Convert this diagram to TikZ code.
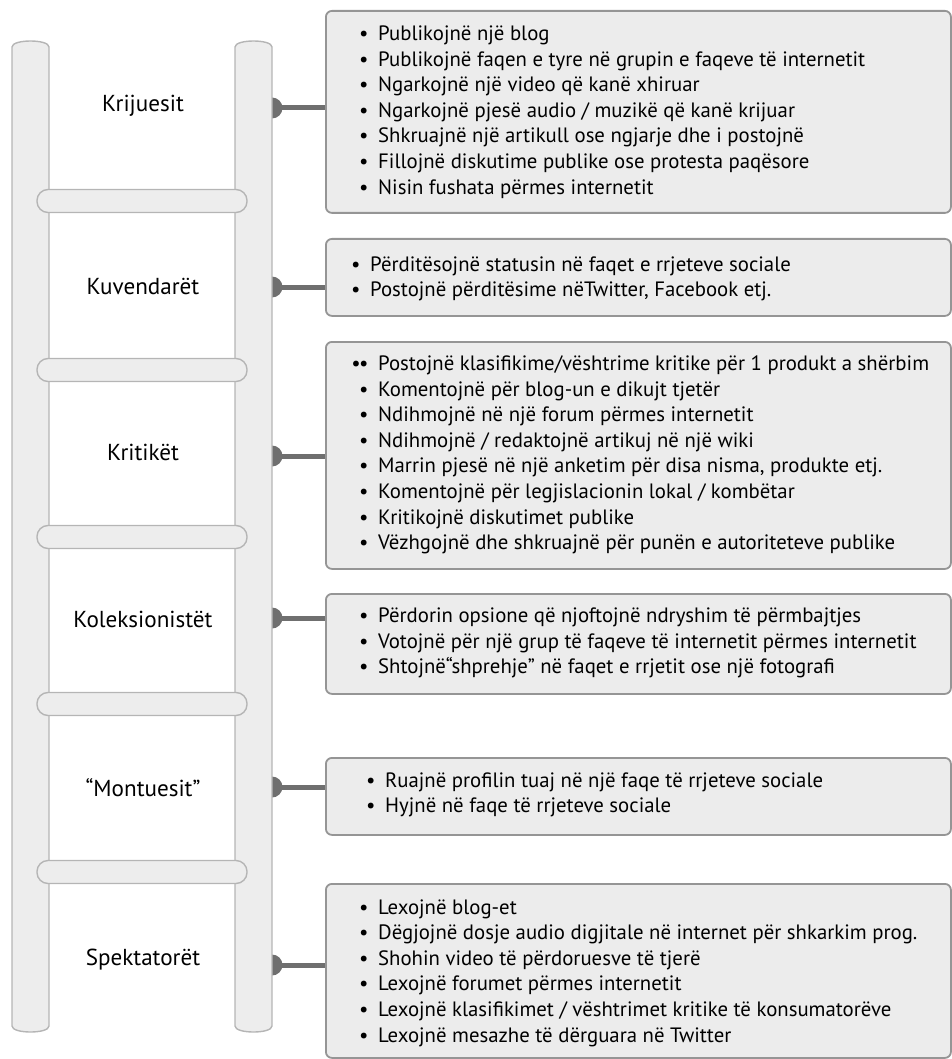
\documentclass[tikz,border=0pt]{standalone}
\usepackage{fontspec}
\setmainfont{PT Sans}
\definecolor{railfill}{HTML}{EDEDED}
\definecolor{railline}{HTML}{B5B5B5}
\definecolor{boxfill}{HTML}{ECECEC}
\definecolor{boxline}{HTML}{959595}
\definecolor{conn}{HTML}{6F6F6F}
\newlength\reflen
\newlength\lbllen
\newcommand{\bl}[1]{\makebox[19pt][l]{•}#1}
\newcommand{\bbl}[1]{\makebox[19pt][l]{\makebox[0pt][r]{•\hspace{-1.5pt}}•}#1}
\begin{document}
\settowidth\reflen{\fontsize{10}{12}\selectfont Publikojnë faqen e tyre në grupin e faqeve të internetit}%
\settowidth\lbllen{\fontsize{10}{12}\selectfont Koleksionistët}%
\edef\bsize{\fpeval{round(4870/(\the\reflen),2)}}%
\edef\lsize{\fpeval{round(1390/(\the\lbllen),2)}}%
\begin{tikzpicture}[x=1pt,y=-1pt]
\tikzset{
  box/.style={draw=boxline,fill=boxfill,line width=1.8pt,rounded corners=6pt,anchor=north west,inner sep=0pt},
  txt/.style={anchor=west,inner sep=0pt,align=left,font=\fontsize{\bsize}{25.6}\selectfont},
  lbl/.style={inner sep=0pt,font=\fontsize{\lsize}{26}\selectfont},
  rail/.style={draw=railline,fill=railfill,line width=1.4pt},
  rung/.style={draw=railline,fill=railfill,line width=1.4pt,rounded corners=11pt},
  link/.style={draw=conn,line width=5pt},
  knob/.style={fill=conn}}
\useasboundingbox (0,0) rectangle (952,1059);
% boxes
\node[box,minimum width=625,minimum height=202] (b1) at (325,10) {};
\node[box,minimum width=625,minimum height=77] (b2) at (325,238) {};
\node[box,minimum width=625,minimum height=227] (b3) at (325,341) {};
\node[box,minimum width=625,minimum height=100] (b4) at (325,593) {};
\node[box,minimum width=625,minimum height=77] (b5) at (325,757) {};
\node[box,minimum width=625,minimum height=174] (b6) at (325,883) {};
% texts
\node[txt] (t1) at (359,112) {\bl{Publikojnë një blog}\\
\bl{Publikojnë faqen e tyre në grupin e faqeve të internetit}\\
\bl{Ngarkojnë një video që kanë xhiruar}\\
\bl{Ngarkojnë pjesë audio / muzikë që kanë krijuar}\\
\bl{Shkruajnë një artikull ose ngjarje dhe i postojnë}\\
\bl{Fillojnë diskutime publike ose protesta paqësore}\\
\bl{Nisin fushata përmes internetit}};
\node[txt] (t2) at (351,279) {\bl{Përditësojnë statusin në faqet e rrjeteve sociale}\\
\bl{Postojnë përditësime nëTwitter, Facebook etj.}};
\node[txt] (t3) at (359,455) {\bbl{Postojnë klasifikime/vështrime kritike për 1 produkt a shërbim}\\
\bl{Komentojnë për blog-un e dikujt tjetër}\\
\bl{Ndihmojnë në një forum përmes internetit}\\
\bl{Ndihmojnë / redaktojnë artikuj në një wiki}\\
\bl{Marrin pjesë në një anketim për disa nisma, produkte etj.}\\
\bl{Komentojnë për legjislacionin lokal / kombëtar}\\
\bl{Kritikojnë diskutimet publike}\\
\bl{Vëzhgojnë dhe shkruajnë për punën e autoriteteve publike}};
\node[txt] (t4) at (359,643) {\bl{Përdorin opsione që njoftojnë ndryshim të përmbajtjes}\\
\bl{Votojnë për një grup të faqeve të internetit përmes internetit}\\
\bl{Shtojnë“shprehje” në faqet e rrjetit ose një fotografi}};
\node[txt] (t5) at (366,795) {\bl{Ruajnë profilin tuaj në një faqe të rrjeteve sociale}\\
\bl{Hyjnë në faqe të rrjeteve sociale}};
\node[txt] (t6) at (359,973) {\bl{Lexojnë blog-et}\\
\bl{Dëgjojnë dosje audio digjitale në internet për shkarkim prog.}\\
\bl{Shohin video të përdoruesve të tjerë}\\
\bl{Lexojnë forumet përmes internetit}\\
\bl{Lexojnë klasifikimet / vështrimet kritike të konsumatorëve}\\
\bl{Lexojnë mesazhe të dërguara në Twitter}};
% connector anchors on the right rail
\coordinate (c1) at (272,108);
\coordinate (c2) at (272,287);
\coordinate (c3) at (272,456);
\coordinate (c4) at (272,618);
\coordinate (c5) at (272,787);
\coordinate (c6) at (272,965);
\foreach \i in {1,...,6}{
  \fill[knob] (c\i) circle (10.5);
  \draw[link] (c\i) -- (b\i.west |- c\i);
}
% rails
\draw[rail] (12,47) .. controls (12,39) and (49,39) .. (49,47) -- (49,1026) .. controls (49,1034) and (12,1034) .. (12,1026) -- cycle;
\draw[rail] (235,47) .. controls (235,39) and (272,39) .. (272,47) -- (272,1026) .. controls (272,1034) and (235,1034) .. (235,1026) -- cycle;
% rungs
\foreach \yy in {201,370,537,704,872}{
  \draw[rung] (37,\yy-11.5) rectangle (247,\yy+11.5);
}
% labels
\node[lbl] (l1) at (143,106) {Krijuesit};
\node[lbl] (l2) at (143,286) {Kuvendarët};
\node[lbl] (l3) at (143,452) {Kritikët};
\node[lbl] (l4) at (143,619) {Koleksionistët};
\node[lbl] (l5) at (143,788) {“Montuesit”};
\node[lbl] (l6) at (143,960) {Spektatorët};
\end{tikzpicture}
\end{document}
